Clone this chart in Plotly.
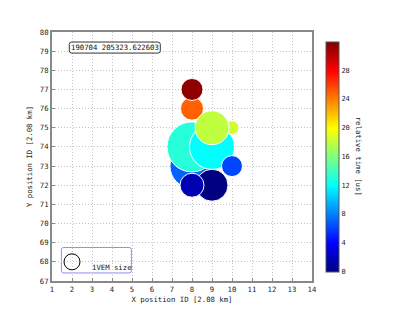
import plotly.graph_objects as go

# ---- data ----
x_id = [8, 8, 9, 10, 8, 8, 9, 10, 9, 8]
y_id = [73, 74, 74, 75, 76, 77, 75, 73, 72, 72]
signal_vem = [7.6, 9.8, 7.9, 0.77, 2.07, 1.89, 4.5, 1.72, 4.0, 2.25]
rel_time_us = [7.1, 13.2, 12.0, 18.5, 25.0, 31.5, 18.0, 6.2, 0.0, 1.6]
event_label = "190704 205323.622603"
x_ticks = list(range(1, 15))
y_ticks = list(range(67, 81))
cb_ticks = [0, 4, 8, 12, 16, 20, 24, 28]

VEM_DIAM = 16
FONT = "DejaVu Sans Mono"

jet = [[0.0, "rgb(0,0,128)"], [0.125, "rgb(0,0,255)"], [0.375, "rgb(0,255,255)"],
       [0.625, "rgb(255,255,0)"], [0.875, "rgb(255,0,0)"], [1.0, "rgb(128,0,0)"]]

diam = [VEM_DIAM * s ** 0.5 for s in signal_vem]

fig = go.Figure()
fig.add_trace(go.Scatter(
    x=x_id, y=y_id, mode="markers",
    marker=dict(size=diam, sizemode="diameter", color=rel_time_us, cmin=0, cmax=32,
                colorscale=jet, line=dict(color="white", width=1), opacity=1,
                colorbar=dict(x=1.054, xanchor="left", xpad=0, y=0.5, yanchor="middle",
                              lenmode="pixels", len=250, thickness=13,
                              outlinecolor="#555", outlinewidth=1,
                              tickvals=cb_ticks, ticks="", ticklabelposition="outside",
                              tickfont=dict(family=FONT, size=7, color="#222"))),
    showlegend=False, hoverinfo="skip"))

# 1VEM size legend marker
fig.add_trace(go.Scatter(x=[2], y=[68], mode="markers",
                         marker=dict(size=VEM_DIAM, symbol="circle-open", color="black",
                                     line=dict(width=1, color="black")),
                         showlegend=False, hoverinfo="skip"))


def rrect(x0, x1, y0, y1, rx, ry):
    return (f"M {x0+rx},{y0} L {x1-rx},{y0} Q {x1},{y0} {x1},{y0+ry} "
            f"L {x1},{y1-ry} Q {x1},{y1} {x1-rx},{y1} L {x0+rx},{y1} "
            f"Q {x0},{y1} {x0},{y1-ry} L {x0},{y0+ry} Q {x0},{y0} {x0+rx},{y0} Z")


fig.add_shape(type="path", path=rrect(1.865, 6.415, 78.90, 79.476, 0.12, 0.12),
              line=dict(color="#333", width=1), fillcolor="white", layer="above")
fig.add_annotation(x=4.14, y=79.19, text=event_label, showarrow=False,
                   font=dict(family=FONT, size=7.3, color="#111"))

fig.add_shape(type="path", path=rrect(1.47, 4.97, 67.42, 68.75, 0.12, 0.12),
              line=dict(color="#8c8cff", width=1), layer="below")
fig.add_annotation(x=2.9, y=67.72, text="1VEM size", showarrow=False, xanchor="left",
                   font=dict(family=FONT, size=7.3, color="#111"))

fig.add_annotation(xref="paper", yref="paper", x=1.205, y=0.5, text="relative time [us]",
                   textangle=90, showarrow=False,
                   font=dict(family=FONT, size=7.3, color="#222"))

axis_common = dict(showgrid=True, gridcolor="#c4c4c4", griddash="1px,2px", gridwidth=1,
                   showline=True, linecolor="#888", linewidth=2, mirror=True,
                   ticks="inside", ticklen=3, tickcolor="#888", zeroline=False,
                   automargin=False,
                   tickfont=dict(family=FONT, size=7.3, color="#222"))

fig.update_xaxes(range=[1, 14], tickvals=x_ticks, title=dict(text="X position ID [2.08 km]",
                 font=dict(family=FONT, size=7.3, color="#222"), standoff=4), **axis_common)
fig.update_yaxes(range=[67, 80], tickvals=y_ticks, title=dict(text="Y position ID [2.08 km]",
                 font=dict(family=FONT, size=7.3, color="#222"), standoff=6), **axis_common)

fig.update_layout(width=408, height=305,
                  margin=dict(l=44, r=104, t=24, b=32, autoexpand=False),
                  plot_bgcolor="white", paper_bgcolor="white")

fig.write_html("out.html")
